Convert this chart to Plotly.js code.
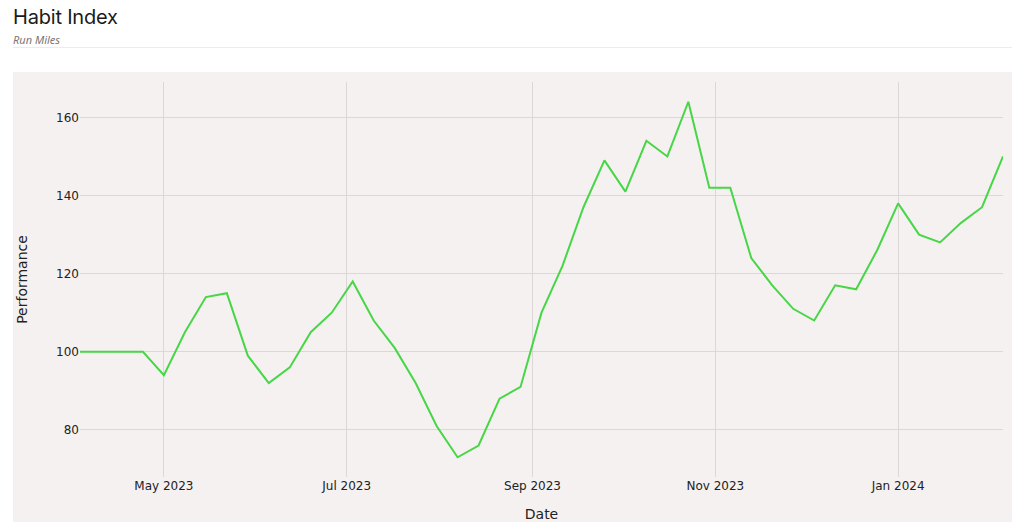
<!DOCTYPE html>
<html>
<head>
<meta charset="utf-8">
<script src="https://cdn.plot.ly/plotly-3.0.1.min.js"></script>
<style>
  html, body { margin: 0; padding: 0; background: #ffffff; width: 1024px; height: 529px; overflow: hidden; }
  #hdr { position: absolute; left: 13px; top: 0; width: 999px; height: 47px; border-bottom: 1px solid #ececec; }
  #title { position: absolute; left: 0; top: 5px; font-family: "Inter", "Noto Sans", sans-serif; font-size: 20px; color: #1a1a1a; letter-spacing: -0.2px; }
  #subtitle { position: absolute; left: 0; top: 32px; font-family: "Noto Sans", sans-serif; font-style: italic; font-size: 11px; color: #777777; }
  #chart { position: absolute; left: 13px; top: 72px; width: 999px; height: 450px; }
</style>
</head>
<body>
<div id="hdr"><div id="title">Habit Index</div><div id="subtitle">Run Miles</div></div>
<div id="chart"></div>
<script>
const dates = [
  "2023-04-03","2023-04-10","2023-04-17","2023-04-24","2023-05-01","2023-05-08","2023-05-15","2023-05-22","2023-05-29",
  "2023-06-05","2023-06-12","2023-06-19","2023-06-26","2023-07-03","2023-07-10","2023-07-17","2023-07-24","2023-07-31",
  "2023-08-07","2023-08-14","2023-08-21","2023-08-28","2023-09-04","2023-09-11","2023-09-18","2023-09-25","2023-10-02",
  "2023-10-09","2023-10-16","2023-10-23","2023-10-30","2023-11-06","2023-11-13","2023-11-20","2023-11-27","2023-12-04",
  "2023-12-11","2023-12-18","2023-12-25","2024-01-01","2024-01-08","2024-01-15","2024-01-22","2024-01-29","2024-02-05"
];
const performance = [
  100,100,100,100,94,105,114,115,99,
  92,96,105,110,118,108,101,92,81,
  73,76,88,91,110,122,137,149,141,
  154,150,164,142,142,124,117,111,108,
  117,116,126,138,130,128,133,137,150
];
const seriesName = "Run Miles";
const xTitle = "Date";
const yTitle = "Performance";

const trace = {
  x: dates, y: performance, type: "scatter", mode: "lines", name: seriesName,
  line: { color: "#46d646", width: 2 }
};
const layout = {
  width: 999, height: 450,
  margin: { l: 67, r: 9, t: 10, b: 45 },
  paper_bgcolor: "#f6f1f1", plot_bgcolor: "#f6f1f1",
  showlegend: false,
  font: { family: "DejaVu Sans, Verdana, sans-serif", size: 12, color: "#222" },
  xaxis: {
    type: "date",
    title: { text: xTitle, font: { size: 14, color: "#222" }, standoff: 17 },
    gridcolor: "#ddd7d7", gridwidth: 1, zeroline: false, showline: false,
    tickformat: "%b %Y", dtick: "M2", tick0: "2023-01-01",
    ticks: "", tickfont: { size: 12, color: "#222" }
  },
  yaxis: {
    title: { text: yTitle, font: { size: 14, color: "#222" }, standoff: 25 },
    gridcolor: "#ddd7d7", gridwidth: 1, zeroline: false, showline: false,
    dtick: 20, ticks: "", tickfont: { size: 12, color: "#222" }
  }
};
Plotly.newPlot("chart", [trace], layout, { displayModeBar: false, staticPlot: true });
</script>
</body>
</html>
